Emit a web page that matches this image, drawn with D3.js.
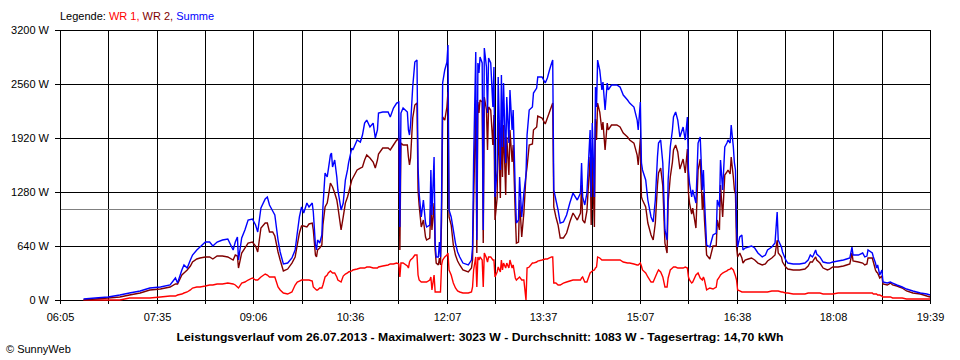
<!DOCTYPE html>
<html><head><meta charset="utf-8">
<script src="https://cdn.jsdelivr.net/npm/d3@7"></script>
<style>
body{margin:0;background:#fff;}
svg{display:block;font-family:"Liberation Sans",Arial,sans-serif;}
</style></head><body>
<svg id="chart" width="960" height="360"></svg>
<script>
// ---- data ----
const times = [
"06:27","06:38","06:50","07:01","07:10","07:20","07:29","07:39","07:48",
"07:53","07:55","07:59","08:01","08:04","08:07","08:09","08:13","08:16","08:21","08:25","08:28","08:32","08:37",
"08:42","08:47","08:49","08:51","08:52","08:55","08:58","09:01","09:05","09:08","09:10","09:13","09:17","09:19","09:21","09:24","09:26",
"09:29","09:31","09:34","09:38","09:42","09:45","09:47","09:49","09:51","09:53","09:56","09:58","10:01","10:02","10:04","10:05","10:06","10:08","10:10","10:11",
"10:13","10:15","10:16","10:18","10:19","10:20","10:22","10:24","10:25","10:28","10:30","10:32","10:34","10:35","10:38","10:39","10:43","10:46","10:48","10:50","10:52","10:55","10:58",
"11:00","11:02","11:03","11:07","11:12","11:14","11:17","11:20","11:22","11:23","11:24","11:26","11:30","11:31","11:32","11:33","11:35","11:37","11:39","11:40","11:41","11:43","11:45","11:47","11:48",
"11:51","11:52","11:53","11:55","11:56","11:57","11:59","12:00","12:01","12:02","12:03","12:05","12:07","12:08","12:09","12:11","12:13","12:15","12:17","12:19","12:22","12:27","12:30","12:31",
"12:32","12:34","12:35","12:36","12:37","12:38","12:40","12:41","12:42","12:44","12:45","12:46","12:48","12:50","12:51","12:52","12:54","12:55","12:57","12:58","12:59","13:00","13:02","13:03","13:05","13:06","13:08","13:09",
"13:11","13:12","13:14","13:15","13:17","13:19","13:21","13:22","13:24","13:27","13:28","13:31","13:32","13:36","13:39","13:41","13:43","13:45","13:46",
"13:47","13:49","13:51","13:53","13:56","13:59","14:02","14:05","14:09","14:12","14:13","14:14","14:16","14:18","14:21","14:22","14:23","14:25","14:26","14:27","14:28",
"14:30","14:32","14:33","14:35","14:37","14:38","14:41","14:46","14:49","14:52","14:56","14:58","15:02","15:05","15:06","15:08","15:09","15:10",
"15:13","15:15","15:18","15:20","15:22","15:24","15:25","15:27","15:29","15:31","15:33","15:34","15:36","15:38","15:39","15:41","15:43","15:45","15:48","15:50","15:52","15:53","15:54","15:56","15:57",
"16:00","16:02","16:04","16:06","16:07","16:08","16:10","16:13","16:16","16:19","16:20","16:22","16:23","16:25","16:27","16:29","16:30","16:32","16:33","16:35","16:36","16:37","16:38","16:39",
"16:41","16:43","16:44","16:46","16:49","16:52","16:55","16:58","17:02","17:05","17:07","17:11","17:14","17:16","17:17","17:20","17:21","17:24","17:26","17:31",
"17:37","17:42","17:45","17:47","17:49","17:50","17:52","17:53","17:56","17:59","18:03","18:05","18:08","18:13","18:18","18:21","18:24","18:26","18:27",
"18:32","18:36","18:38","18:40","18:41","18:45","18:46","18:48","18:49","18:50","18:52","18:54","18:55","18:59","19:02","19:04","19:08","19:13","19:17","19:23","19:30","19:36","19:39"
];
const summe = [
12,24,36,59,83,107,142,154,178,
261,201,356,415,379,474,533,593,628,687,687,640,687,711,
723,593,687,747,474,735,830,948,960,889,806,1090,1197,1221,1126,1055,1007,
711,569,427,438,498,593,794,984,1102,1031,1149,1102,1149,1043,652,593,711,675,770,1102,
1505,1458,1541,1718,1742,1576,1659,1458,1304,1067,1149,1422,1541,1624,1801,1778,1896,1872,1955,2097,2133,2050,2097,
1920,2015,2216,2228,2228,2169,2275,2334,2346,865,2216,2275,2228,2015,1955,2074,2524,2820,2844,1576,1268,984,1185,912,865,
889,1541,1007,1695,675,510,510,687,510,1185,2572,2726,2820,3023,1067,984,830,675,569,510,438,415,474,628,
1659,2939,711,2809,2690,2880,2809,830,2986,2761,2216,2868,2809,2287,2761,1221,1541,2643,1541,2666,1813,2572,1624,2406,1860,2489,2015,2252,
1268,912,948,1458,984,1268,1481,1955,2252,2287,2453,2512,2643,2643,2572,2631,2726,2809,2844,
1304,1185,1067,912,924,1007,1149,1268,1185,1268,1624,1221,1126,1268,2015,1221,2097,1221,2524,2287,2844,
2726,2489,2583,2252,2572,2489,2548,2548,2524,2429,2370,2334,2287,2133,2015,2346,1624,1541,
1422,1185,984,924,1185,1695,1860,1896,1624,830,711,1422,1813,2015,2169,2228,2133,1932,2050,1896,2169,1541,1386,1221,1304,
1149,1860,1932,1304,1541,1185,652,628,770,794,1185,1102,1659,1304,1813,1860,1896,1860,2074,1813,1624,1541,865,628,
747,770,593,616,628,640,616,557,510,533,593,628,675,1043,711,628,569,474,438,427,
427,438,474,533,510,533,593,545,510,450,438,438,450,462,474,486,498,628,533,
533,557,510,521,593,557,510,438,379,415,296,356,213,201,213,201,178,154,130,107,83,71,59
];
const wr2 = [
0,12,24,36,59,83,119,130,154,
190,190,296,320,356,403,450,486,498,510,510,486,521,521,
510,474,533,521,379,557,616,675,687,640,569,853,912,912,806,806,758,
569,474,344,367,438,510,652,794,877,877,865,901,912,830,533,510,593,616,652,889,
1102,1149,1221,1386,1363,1339,1268,1185,1102,830,984,1149,1221,1268,1422,1446,1541,1564,1576,1659,1718,1683,1635,
1564,1659,1730,1801,1801,1778,1837,1896,1908,593,1860,1837,1837,1695,1600,1683,2157,2311,2334,1304,1126,865,948,747,711,
735,1126,830,1149,593,438,415,498,415,948,2169,2133,2287,2465,984,889,652,533,462,415,356,332,379,474,
1149,2370,557,2346,2216,2370,2346,675,2406,2252,1778,2287,2252,1837,2192,948,1209,2133,1209,2133,1458,2074,1244,1932,1481,2015,1635,1837,
1007,675,687,1185,747,1031,1481,1576,1837,1849,2015,2050,2180,2157,2086,2157,2228,2299,2334,
1102,984,889,735,735,794,924,1031,948,1031,1363,948,912,1055,1695,889,1754,865,2145,1896,2334,
2228,2015,2109,1778,2097,2015,2074,2074,2050,1979,1932,1896,1860,1718,1600,1908,1221,1185,
1102,912,770,711,912,1363,1505,1564,1351,675,557,1161,1458,1635,1778,1837,1754,1552,1671,1505,1789,1268,1149,1019,1090,
853,1541,1671,1067,1268,948,533,486,640,640,948,830,1363,984,1481,1517,1541,1493,1695,1458,1304,1256,628,510,
557,498,438,474,486,498,474,438,415,427,462,498,533,711,557,510,450,391,367,356,
356,367,403,450,450,474,510,474,438,379,356,367,391,391,403,415,427,557,462,
450,438,415,427,498,498,450,356,332,320,261,284,190,178,201,178,166,142,107,83,71,47,36
];
const wr1 = [
0,0,0,0,24,24,24,36,47,
47,59,71,83,95,119,142,154,154,166,178,178,190,190,
201,190,178,154,142,201,213,237,261,237,237,273,308,296,273,273,273,
154,119,83,71,95,178,213,225,237,237,237,237,225,154,130,119,119,142,142,178,
273,296,320,344,332,320,320,273,237,213,284,308,320,332,344,356,367,379,379,379,391,391,379,
379,379,391,403,415,427,427,438,427,273,438,438,403,379,450,474,498,533,533,296,237,213,213,213,213,
237,273,119,296,95,95,95,95,95,415,474,510,533,557,356,296,201,142,107,95,83,83,95,154,
356,510,154,510,474,510,474,154,557,498,450,510,510,474,474,273,332,391,332,474,356,438,379,438,379,474,379,415,
261,237,261,273,237,237,0,379,391,438,438,450,462,474,486,486,498,510,510,
201,201,178,178,201,213,225,237,237,237,261,273,213,213,320,332,344,356,379,391,510,
498,474,474,474,474,474,474,474,474,450,438,438,427,415,415,438,403,356,
320,273,213,213,273,332,356,332,273,154,154,261,356,379,391,391,379,379,379,391,379,273,237,201,213,
296,320,261,237,273,237,119,142,130,154,237,273,296,320,332,344,356,367,379,356,320,284,237,119,
107,95,95,95,95,95,95,95,95,95,95,107,107,107,107,95,95,83,83,71,
71,71,83,83,83,83,83,83,83,71,71,71,71,83,83,83,83,83,83,
83,83,83,83,83,83,71,71,71,59,59,47,36,36,36,24,24,24,12,12,12,12,12
];
const yTicks = [0, 640, 1280, 1920, 2560, 3200];
const xTickLabels = ["06:05","07:35","09:06","10:36","12:07","13:37","15:07","16:38","18:08","19:39"];
const startTime = "06:05", endTime = "19:39";
const dateLabel = "26.07.2013";
const maxValue = 3023, avgValue = 1083, dayYield = "14,70";
const seriesNames = ["WR 1", "WR 2", "Summe"];
const seriesColors = ["#ff0000", "#800000", "#0000ff"];

// ---- chart ----
(function () {
const pLeft = 60, pRight = 930, pTop = 30, pBottom = 300;
const svg = d3.select("#chart");
const parseTime = d3.timeParse("%H:%M");
const x = d3.scaleTime().domain([parseTime(startTime), parseTime(endTime)]).range([pLeft, pRight]);
const xr = x.copy().interpolate(d3.interpolateRound);
const y = d3.scaleLinear().domain([0, 3200]).range([pBottom, pTop]);

const nInt = (xTickLabels.length - 1) * 2;
const t0 = +x.domain()[0], t1 = +x.domain()[1];
const gridTimes = d3.range(nInt + 1).map(i => new Date(t0 + i * (t1 - t0) / nInt));

const grid = svg.append("g").attr("shape-rendering", "crispEdges");
grid.selectAll("line.h").data(yTicks).join("line").attr("class", "h")
  .attr("x1", pLeft).attr("x2", pRight + 1)
  .attr("y1", d => Math.round(y(d)) + 0.5).attr("y2", d => Math.round(y(d)) + 0.5)
  .attr("stroke", "#000");
grid.selectAll("line.v").data(gridTimes).join("line").attr("class", "v")
  .attr("x1", d => xr(d) + 0.5).attr("x2", d => xr(d) + 0.5)
  .attr("y1", pTop).attr("y2", pBottom + 1)
  .attr("stroke", "#000");
grid.append("line")
  .attr("x1", pLeft + 1).attr("x2", pRight)
  .attr("y1", Math.round(y(avgValue)) + 0.5).attr("y2", Math.round(y(avgValue)) + 0.5)
  .attr("stroke", "#808080");

const yAxis = svg.append("g").attr("transform", `translate(${pLeft},0)`)
  .call(d3.axisLeft(y).tickValues(yTicks).tickSize(5).tickPadding(6).tickFormat(d => d + " W"));
yAxis.select(".domain").remove();
const xAxis = svg.append("g").attr("transform", `translate(0,${pBottom})`)
  .call(d3.axisBottom(xr).tickValues(gridTimes).tickSize(4).tickPadding(9)
    .tickFormat((d, i) => i % 2 === 0 ? xTickLabels[i / 2] : ""));
xAxis.select(".domain").remove();
svg.selectAll(".tick line").attr("shape-rendering", "crispEdges").attr("stroke", "#000");
svg.selectAll(".tick text").attr("font-size", 11).attr("font-family", "'Liberation Sans',Arial,sans-serif").attr("fill", "#000");

const n = Math.min(times.length, summe.length, wr1.length, wr2.length);
const tParsed = times.slice(0, n).map(parseTime);
const seriesValues = [wr1, wr2, summe];
const line = d3.line().x(d => x(d[0])).y(d => y(d[1]));
const lines = svg.append("g");
seriesValues.forEach((vals, k) => {
  const pts = tParsed.map((t, i) => [t, vals[i]]);
  lines.append("path").datum(pts)
    .attr("d", line).attr("fill", "none")
    .attr("stroke", seriesColors[k]).attr("stroke-width", 1.4)
    .attr("stroke-linejoin", "miter").attr("stroke-miterlimit", 2);
});

const leg = svg.append("text").attr("x", pLeft).attr("y", 20).attr("font-size", 11);
leg.append("tspan").attr("fill", "#000").text("Legende: ");
seriesNames.forEach((s, k) => {
  leg.append("tspan").attr("fill", seriesColors[k]).text(s + (k < seriesNames.length - 1 ? ", " : ""));
});

svg.append("text").attr("x", 480).attr("y", 341).attr("text-anchor", "middle")
  .attr("font-size", 11).attr("font-weight", "bold")
  .attr("textLength", 607).attr("lengthAdjust", "spacingAndGlyphs")
  .text(`Leistungsverlauf vom ${dateLabel} - Maximalwert: ${maxValue} W - Durchschnitt: ${avgValue} W - Tagesertrag: ${dayYield} kWh`);
svg.append("text").attr("x", 6).attr("y", 353).attr("font-size", 11).text("© SunnyWeb");
})();
</script>
</body></html>
